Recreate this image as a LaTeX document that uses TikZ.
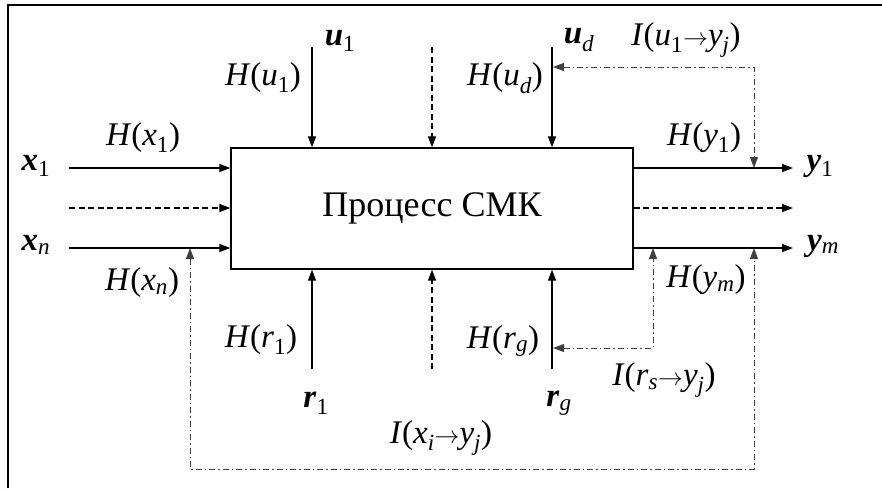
\documentclass[tikz,border=0pt]{standalone}
\usepackage{fontspec}
\setmainfont{Liberation Serif}
\usetikzlibrary{arrows.meta}

% энтропия и информация
\newcommand{\Hent}[2]{\textit{H}(\textit{#1}\textsubscript{#2})}
\newcommand{\Iinf}[4]{\textit{I}(\textit{#1}\textsubscript{#2}$\rightarrow$\textit{#3}\textsubscript{#4})}
\newcommand{\var}[2]{\textbf{\textit{#1}}\textsubscript{#2}}

\begin{document}
\begin{tikzpicture}[
  x=1pt, y=-1pt,
  proc/.style={draw=black, line width=1.4pt, minimum width=402pt, minimum height=121pt,
    inner sep=0pt, font=\fontsize{36}{40}\selectfont},
  flow/.style={line width=1.3pt, -{Triangle[length=11pt,width=8pt]}},
  dflow/.style={flow, dash pattern=on 6pt off 3.5pt},
  info/.style={line width=1pt, draw=black!75, dash pattern=on 6pt off 3pt on 1.5pt off 3pt,
    {Triangle[length=11pt,width=8pt]}-{Triangle[length=11pt,width=8pt]}},
  lbl/.style={inner sep=0pt, font=\fontsize{33}{36}\selectfont}
]
  \useasboundingbox (0,0) rectangle (882,488);
  \draw[line width=1.4pt] (8,488) -- (8,5) -- (882,5);

  % Процесс
  \node[proc] (p) at (432,208.5) {Процесс СМК};

  % Концы стрелок
  \coordinate (x1) at (69,168);
  \coordinate (xd) at (69,208);
  \coordinate (xn) at (69,248);
  \coordinate (y1) at (793,168);
  \coordinate (yd) at (793,208);
  \coordinate (ym) at (793,248);
  \coordinate (u1) at (312,47);
  \coordinate (ux) at (432,47);
  \coordinate (ud) at (552,47);
  \coordinate (r1) at (312,369);
  \coordinate (rx) at (432,369);
  \coordinate (rg) at (552,369);

  % Входы и выходы
  \draw[flow] (x1) -- (x1 -| p.west);
  \draw[dflow] (xd) -- (xd -| p.west);
  \draw[flow] (xn) -- (xn -| p.west);
  \draw[flow] (y1 -| p.east) -- (y1);
  \draw[dflow] (yd -| p.east) -- (yd);
  \draw[flow] (ym -| p.east) -- (ym);

  % Управление и ресурсы
  \draw[flow] (u1) -- (u1 |- p.north);
  \draw[dflow] (ux) -- (ux |- p.north);
  \draw[flow] (ud) -- (ud |- p.north);
  \draw[flow] (r1) -- (r1 |- p.south);
  \draw[dflow] (rx) -- (rx |- p.south);
  \draw[flow] (rg) -- (rg |- p.south);

  % Информационные связи
  \coordinate (iu) at (553,67);
  \coordinate (iy1) at (754,168);
  \coordinate (ir) at (553,348);
  \coordinate (iym) at (653,248);
  \coordinate (ix) at (190,248);
  \coordinate (ib) at (754,469);
  \coordinate (iy) at (754,248);
  \draw[info] (iu) -| (iy1);
  \draw[info] (ir) -| (iym);
  \draw[info] (ix) |- (ib) -- (iy);

  % Подписи
  \node[lbl] (lx1) at (36,166) {\var{x}{1}};
  \node[lbl] (lxn) at (36,245) {\var{x}{\textit{n}}};
  \node[lbl] (hx1) at (143,138) {\Hent{x}{1}};
  \node[lbl] (hxn) at (142,283) {\Hent{x}{\textit{n}}};
  \node[lbl] (lu1) at (340,41) {\var{u}{1}};
  \node[lbl] (lud) at (579,40) {\var{u}{\textit{d}}};
  \node[lbl] (hu1) at (263,78) {\Hent{u}{1}};
  \node[lbl] (hud) at (505,78) {\Hent{u}{\textit{d}}};
  \node[lbl] (iuy) at (686,40) {\Iinf{u}{1}{y}{\textit{j}}};
  \node[lbl] (ly1) at (820,166) {\var{y}{1}};
  \node[lbl] (lym) at (823,246) {\var{y}{\textit{m}}};
  \node[lbl] (hy1) at (704,138) {\Hent{y}{1}};
  \node[lbl] (hym) at (706,280) {\Hent{y}{\textit{m}}};
  \node[lbl] (hr1) at (261,340) {\Hent{r}{1}};
  \node[lbl] (hrg) at (503,341) {\Hent{r}{\textit{g}}};
  \node[lbl] (lr1) at (316,403) {\var{r}{1}};
  \node[lbl] (lrg) at (559,403) {\var{r}{\textit{g}}};
  \node[lbl] (iry) at (664,380) {\Iinf{r}{\textit{s}}{y}{\textit{j}}};
  \node[lbl] (ixy) at (441,438) {\Iinf{x}{\textit{i}}{y}{\textit{j}}};
\end{tikzpicture}
\end{document}
